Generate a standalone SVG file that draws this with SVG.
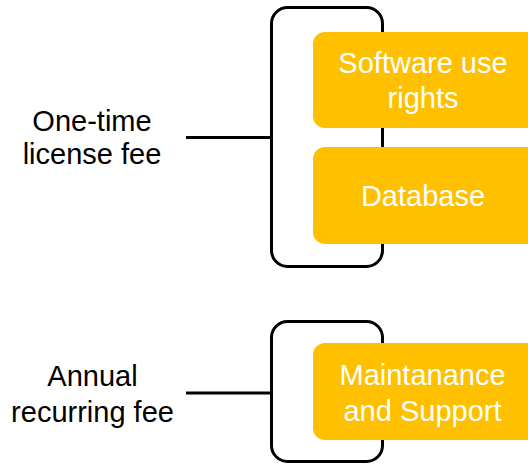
<svg xmlns="http://www.w3.org/2000/svg" width="528" height="464" viewBox="0 0 528 464">
<style>
.br{fill:none;stroke:#000;stroke-width:3}
.box{fill:#FFC000}
.lbl{font-family:"Liberation Sans",Arial,sans-serif;font-size:29px;text-anchor:middle;fill:#000}
.wt{font-family:"Liberation Sans",Arial,sans-serif;font-size:29px;text-anchor:middle;fill:#fff}
</style>
<rect width="528" height="464" fill="#fff"/>
<g id="connectors">
<line class="br" x1="186" y1="137.5" x2="272" y2="137.5"/>
<line class="br" x1="186" y1="393" x2="272" y2="393"/>
</g>
<g id="bracket1"><rect class="br" x="271.5" y="7.5" width="111" height="259" rx="16"/></g>
<g id="bracket2"><rect class="br" x="271.5" y="321.5" width="111" height="140" rx="16"/></g>
<g id="label1"><text class="lbl" x="92" y="131">One-time</text><text class="lbl" x="92" y="164">license fee</text></g>
<g id="label2"><text class="lbl" x="92.5" y="386">Annual</text><text class="lbl" x="92.5" y="422">recurring fee</text></g>
<g id="software"><rect class="box" x="313" y="32" width="230" height="96" rx="12"/><text class="wt" x="423" y="73">Software use</text><text class="wt" x="423" y="108">rights</text></g>
<g id="database"><rect class="box" x="313" y="147" width="230" height="97" rx="12"/><text class="wt" x="423" y="206">Database</text></g>
<g id="maintenance"><rect class="box" x="313" y="343" width="230" height="97" rx="12"/><text class="wt" x="422.5" y="385">Maintanance</text><text class="wt" x="422.5" y="421">and Support</text></g>
</svg>
